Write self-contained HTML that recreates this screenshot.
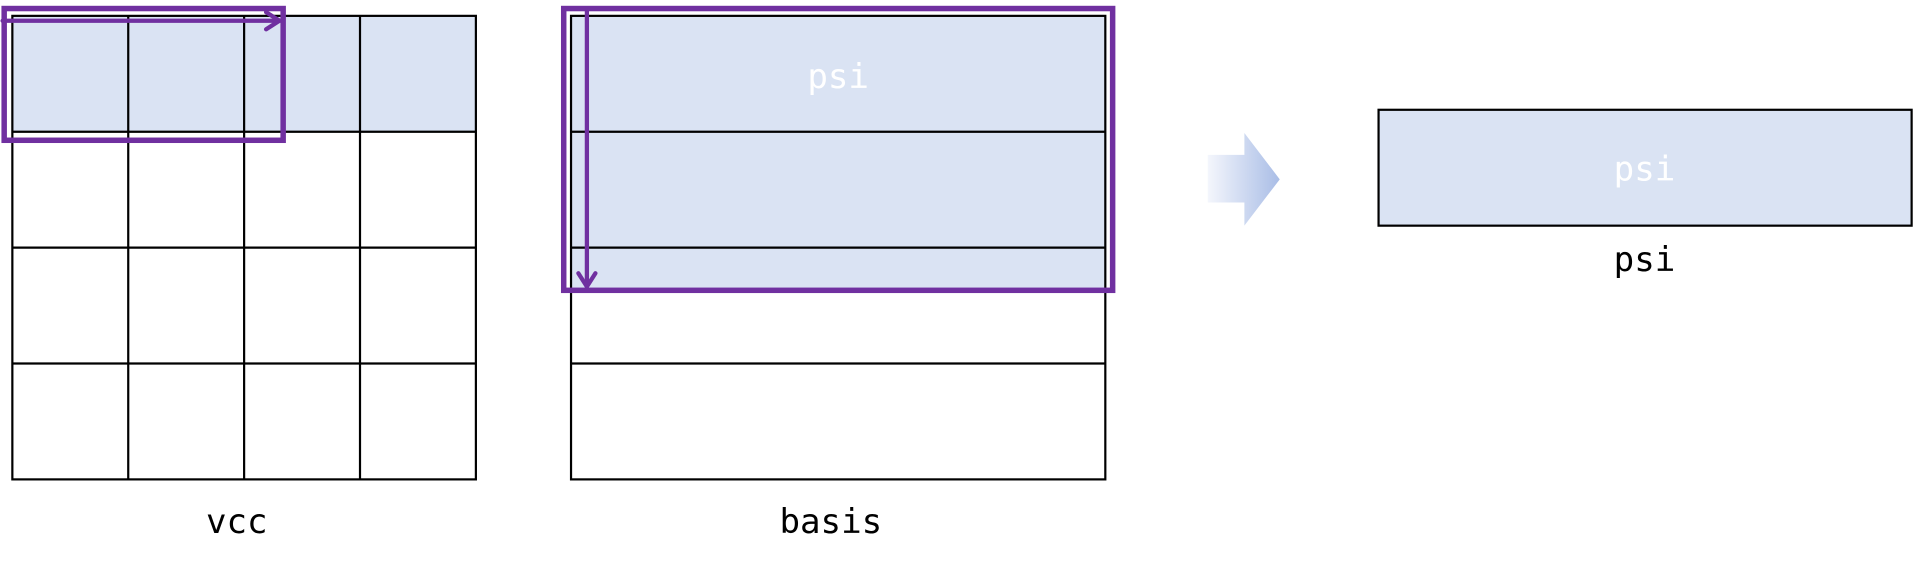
<!DOCTYPE html>
<html><head><meta charset="utf-8"><style>
html,body{margin:0;padding:0;background:#fff;}
svg{display:block}
text{font-family:"DejaVu Sans Mono","Liberation Mono",monospace;font-size:28px;text-anchor:middle}
</style></head><body>
<svg width="1913" height="566" viewBox="0 0 1568 464" xmlns="http://www.w3.org/2000/svg">
<defs>
<linearGradient id="g" x1="0" x2="1" y1="0" y2="0">
<stop offset="0" stop-color="#f4f6fc"/><stop offset="1" stop-color="#a9bde6"/>
</linearGradient>
</defs>
<rect x="10" y="13" width="380" height="95" fill="#dae3f3"/>
<g stroke="#000" stroke-width="1.8" fill="none">
<rect x="10" y="13" width="380" height="380"/>
<line x1="105" y1="13" x2="105" y2="393"/><line x1="200" y1="13" x2="200" y2="393"/><line x1="295" y1="13" x2="295" y2="393"/>
<line x1="10" y1="108" x2="390" y2="108"/><line x1="10" y1="203" x2="390" y2="203"/><line x1="10" y1="298" x2="390" y2="298"/>
</g>
<g stroke="#7030a0" fill="none" stroke-linecap="round" stroke-linejoin="round">
<rect x="3.3" y="7" width="228.7" height="108" stroke-width="4.5" stroke-linecap="butt" stroke-linejoin="miter"/>
<line x1="2" y1="17" x2="229" y2="17" stroke-width="3.5"/>
<polyline points="218,10 229,17 218,24" stroke-width="3.5"/>
</g>
<text x="194" y="437">vcc</text>
<rect x="468" y="13" width="438" height="225" fill="#dae3f3"/>
<g stroke="#000" stroke-width="1.8" fill="none">
<rect x="468" y="13" width="438" height="380"/>
<line x1="468" y1="108" x2="906" y2="108"/><line x1="468" y1="203" x2="906" y2="203"/><line x1="468" y1="298" x2="906" y2="298"/>
</g>
<g stroke="#7030a0" fill="none" stroke-linecap="round" stroke-linejoin="round">
<rect x="462" y="7" width="450" height="231" stroke-width="4.5" stroke-linecap="butt" stroke-linejoin="miter"/>
<line x1="481" y1="9" x2="481" y2="235" stroke-width="3.5"/>
<polyline points="474,224 481,235 488,224" stroke-width="3.5"/>
</g>
<text x="687" y="72" fill="#fff">psi</text>
<text x="681" y="437">basis</text>
<polygon points="990,127 1020,127 1020,109 1049,147 1020,185 1020,166 990,166" fill="url(#g)"/>
<rect x="1130" y="90" width="437" height="95" fill="#dae3f3" stroke="#000" stroke-width="1.8"/>
<text x="1348" y="148" fill="#fff">psi</text>
<text x="1348" y="222">psi</text>
</svg>
</body></html>
